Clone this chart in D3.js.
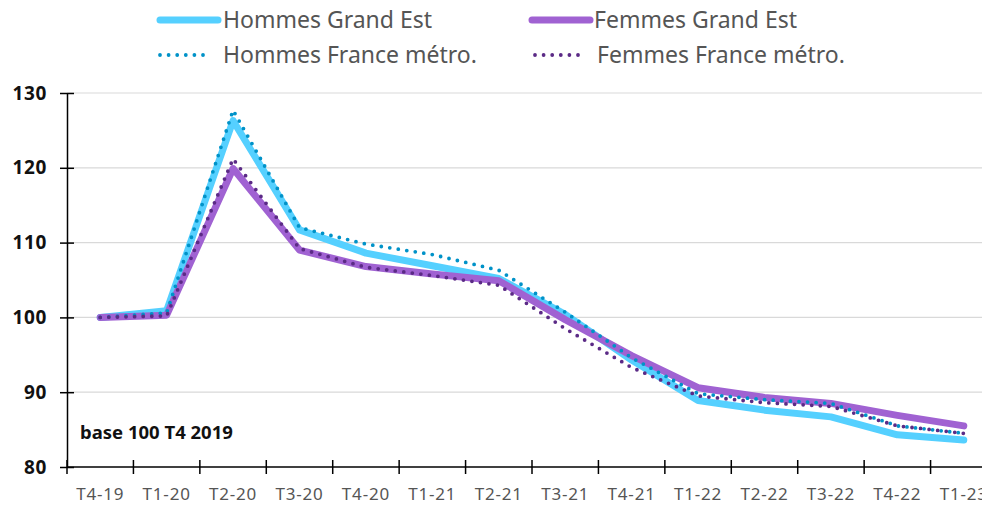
<!DOCTYPE html>
<html>
<head>
<meta charset="utf-8">
<script src="https://cdn.jsdelivr.net/npm/d3@7"></script>
<style>
  body { margin: 0; background: #fff; }
  svg { display: block; font-family: "Noto Sans", sans-serif; }
</style>
</head>
<body>
<div id="chart"></div>
<script>
// Quarters on the x axis
const quarters = ["T4-19", "T1-20", "T2-20", "T3-20", "T4-20", "T1-21", "T2-21",
  "T3-21", "T4-21", "T1-22", "T2-22", "T3-22", "T4-22", "T1-23"];

// Series values (base 100 T4 2019)
const hommesGrandEst = [100, 100.9, 126.3, 111.7, 108.6, 106.9, 105.2, 100.4, 94.3, 88.9, 87.6, 86.7, 84.3, 83.6];
const femmesGrandEst = [100, 100.3, 119.9, 109.0, 106.8, 105.8, 104.9, 99.7, 94.9, 90.6, 89.3, 88.5, 86.9, 85.5];
const hommesFrance = [100, 100.6, 127.7, 112.0, 109.8, 108.4, 106.3, 100.7, 94.6, 89.8, 89.0, 88.5, 85.5, 84.5];
const femmesFrance = [100, 100.2, 121.2, 109.2, 106.7, 105.6, 104.3, 98.5, 93.3, 89.5, 88.6, 88.1, 85.5, 84.5];

const yTicks = [80, 90, 100, 110, 120, 130];

const series = [
  { name: "Hommes Grand Est", values: hommesGrandEst, color: "#55d0ff", dotted: false },
  { name: "Femmes Grand Est", values: femmesGrandEst, color: "#a062d2", dotted: false },
  { name: "Hommes France métro.", values: hommesFrance, color: "#0092c8", dotted: true },
  { name: "Femmes France métro.", values: femmesFrance, color: "#5b2a86", dotted: true },
];

const width = 982;
const height = 505;
const margin = { top: 93, right: -15, bottom: 38, left: 67 };

const x = d3.scaleBand()
  .domain(quarters)
  .range([margin.left, width - margin.right]);

const y = d3.scaleLinear()
  .domain([80, 130])
  .range([height - margin.bottom, margin.top]);

const svg = d3.select("#chart")
  .append("svg")
  .attr("width", width)
  .attr("height", height)
  .attr("viewBox", [0, 0, width, height]);

// Horizontal gridlines
svg.append("g")
  .selectAll("line")
  .data(yTicks.filter((d) => d > 80))
  .join("line")
  .attr("x1", margin.left)
  .attr("x2", width)
  .attr("y1", (d) => y(d))
  .attr("y2", (d) => y(d))
  .attr("stroke", "#d9d9d9")
  .attr("stroke-width", 1.2);

// X axis - ticks at the band boundaries
const xAxis = svg.append("g")
  .attr("transform", `translate(0,${y(80)})`);
xAxis.append("line")
  .attr("x1", margin.left)
  .attr("x2", width)
  .attr("stroke", "#000")
  .attr("stroke-width", 1.5);
xAxis.selectAll(".tick")
  .data(quarters)
  .join("line")
  .attr("x1", (d) => x(d))
  .attr("x2", (d) => x(d))
  .attr("y1", -7)
  .attr("y2", 7)
  .attr("stroke", "#000")
  .attr("stroke-width", 1.5);
xAxis.selectAll("text")
  .data(quarters)
  .join("text")
  .attr("x", (d) => x(d) + x.bandwidth() / 2)
  .attr("y", 33)
  .attr("text-anchor", "middle")
  .attr("fill", "#555")
  .attr("font-size", 17)
  .attr("letter-spacing", 0.8)
  .text((d) => d);

// Y axis
svg.append("g")
  .attr("transform", `translate(${margin.left},0)`)
  .call(d3.axisLeft(y).tickValues(yTicks).tickSize(0).tickPadding(20))
  .call((g) => g.select(".domain").attr("stroke", "#000").attr("stroke-width", 1.5))
  .call((g) => g.selectAll(".tick line").attr("x1", -7).attr("x2", 7)
    .attr("stroke", "#000").attr("stroke-width", 1.5))
  .call((g) => g.selectAll(".tick text")
    .attr("fill", "#111")
    .attr("font-size", 19)
    .attr("letter-spacing", 0.6)
    .attr("font-weight", "bold")
    .attr("font-family", "Noto Sans, sans-serif"));

svg.append("text")
  .attr("x", 80)
  .attr("y", 439)
  .attr("font-size", 18.5)
  .attr("font-weight", "bold")
  .attr("fill", "#111")
  .text("base 100 T4 2019");

// Lines
const line = d3.line()
  .x((d, i) => x(quarters[i]) + x.bandwidth() / 2)
  .y((d) => y(d));

svg.append("g")
  .attr("fill", "none")
  .selectAll("path")
  .data(series)
  .join("path")
  .attr("d", (d) => line(d.values))
  .attr("stroke", (d) => d.color)
  .attr("stroke-width", (d) => (d.dotted ? 3.8 : 7))
  .attr("stroke-linecap", "round")
  .attr("stroke-linejoin", "round")
  .attr("stroke-dasharray", (d) => (d.dotted ? "0 8.6" : null));

// Legend
const legendPos = [
  { lx: 160, ly: 20 },
  { lx: 532, ly: 20 },
  { lx: 160, ly: 55 },
  { lx: 535, ly: 55 },
];
const legend = svg.append("g")
  .selectAll("g")
  .data(series)
  .join("g")
  .attr("transform", (d, i) => `translate(${legendPos[i].lx},${legendPos[i].ly})`);

legend.append("line")
  .attr("x1", 0)
  .attr("x2", (d) => (d.dotted ? 50 : 58))
  .attr("stroke", (d) => d.color)
  .attr("stroke-width", (d) => (d.dotted ? 3.8 : 7))
  .attr("stroke-linecap", "round")
  .attr("stroke-dasharray", (d) => (d.dotted ? "0 8.6" : null));

legend.append("text")
  .attr("x", (d, i) => (i % 2 === 0 ? 63 : 62))
  .attr("y", 8)
  .attr("fill", "#555")
  .attr("font-size", 23)
  .text((d) => d.name);
</script>
</body>
</html>
